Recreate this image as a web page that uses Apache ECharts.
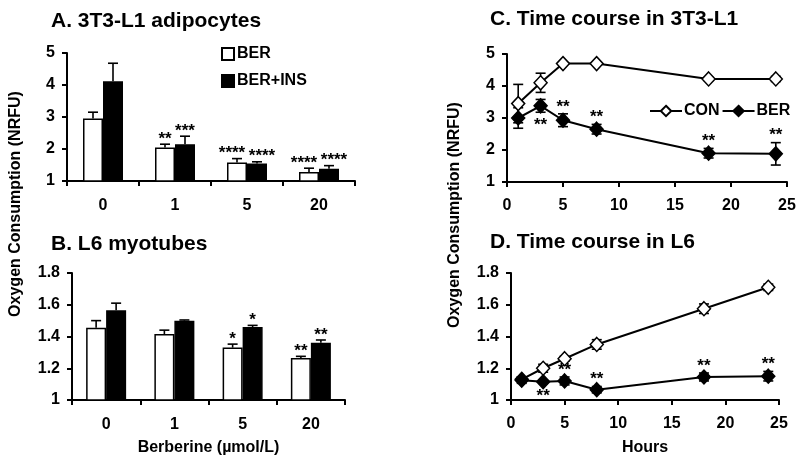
<!DOCTYPE html>
<html><head><meta charset="utf-8">
<script src="https://cdn.jsdelivr.net/npm/echarts@6/dist/echarts.min.js"></script>
<style>html,body{margin:0;padding:0;background:#fff}#c{width:800px;height:460px}</style>
</head><body><div id="c"></div>
<script>
// ---- data ----
const doseLabels = ['0', '1', '5', '20'];
const aBer = [2.95, 2.05, 1.58, 1.28];
const aBerErr = [0.2, 0.1, 0.12, 0.12];
const aIns = [4.12, 2.15, 1.55, 1.38];
const aInsErr = [0.56, 0.25, 0.05, 0.1];
const aBerStars = ['', '**', '****', '****'];
const aInsStars = ['', '***', '****', '****'];

const bBer = [1.455, 1.415, 1.33, 1.265];
const bBerErr = [0.045, 0.025, 0.022, 0.01];
const bIns = [1.565, 1.5, 1.46, 1.36];
const bInsErr = [0.045, 0.004, 0.01, 0.018];
const bBerStars = ['', '', '*', '**'];
const bInsStars = ['', '', '*', '**'];

const hours = [1, 3, 5, 8, 18, 24];
const cCon = [3.45, 4.1, 4.7, 4.7, 4.22, 4.22];
const cConErr = [0.6, 0.3, 0.03, 0.03, 0.05, 0.08];
const cBer = [3.0, 3.38, 2.93, 2.65, 1.9, 1.88];
const cBerErr = [0.32, 0.2, 0.2, 0.15, 0.15, 0.35];
const cStars = ['', '**', '**', '**', '**', '**'];
const cStarSide = ['', 'below', 'above', 'above', 'above', 'above'];

const dCon = [1.13, 1.2, 1.26, 1.35, 1.575, 1.71];
const dConErr = [0.015, 0.025, 0.015, 0.03, 0.03, 0.02];
const dBer = [1.125, 1.115, 1.12, 1.065, 1.145, 1.15];
const dBerErr = [0.02, 0.01, 0.025, 0.02, 0.025, 0.03];
const dStars = ['', '**', '**', '**', '**', '**'];
const dStarSide = ['', 'below', 'above', 'above', 'above', 'above'];

const yTicksA = [1, 5, 1];      // min, max, interval
const yTicksB = [1, 1.8, 0.2];
const xTicksT = [0, 25, 5];

// ---- styling ----
const FONT = 'Liberation Sans, Arial, Helvetica, sans-serif';
const BAR_W = 20;
const axisLine = {show: true, lineStyle: {color: '#000', width: 2}};
const axisTick = {show: true, length: 5, lineStyle: {color: '#000', width: 2}};
const lbl = {color: '#000', fontFamily: FONT, fontWeight: 'bold', fontSize: 16};
const titleStyle = {fontFamily: FONT, fontWeight: 'bold', fontSize: 21, color: '#000'};
const nameStyle = {fontFamily: FONT, fontWeight: 'bold', fontSize: 16, color: '#000'};

function catX(gi) {
  return {type: 'category', gridIndex: gi, data: doseLabels, axisLine, axisTick,
    axisLabel: Object.assign({margin: 17}, lbl), splitLine: {show: false}};
}
function valY(gi, t) {
  return {type: 'value', gridIndex: gi, min: t[0], max: t[1], interval: t[2], axisLine, axisTick,
    axisLabel: Object.assign({margin: 12}, lbl), splitLine: {show: false}};
}
function valX(gi, t) {
  return {type: 'value', gridIndex: gi, min: t[0], max: t[1], interval: t[2], axisLine, axisTick,
    axisLabel: Object.assign({margin: 16}, lbl), splitLine: {show: false}};
}

// error bar for bars (upper only)
function barErr(gi, vals, errs, stars, dx, starShift) {
  return {
    type: 'custom', xAxisIndex: gi, yAxisIndex: gi, z: 5, silent: true,
    data: vals.map((v, i) => [i, v, errs[i]]),
    renderItem: function (params, api) {
      const i = api.value(0), v = api.value(1), e = api.value(2);
      const p0 = api.coord([i, v]);
      const p1 = api.coord([i, v + e]);
      const x = p0[0] + dx;
      const star = stars[params.dataIndex];
      const ch = [
        {type: 'line', shape: {x1: x, y1: p0[1], x2: x, y2: p1[1]}, style: {stroke: '#000', lineWidth: 1.6}},
        {type: 'line', shape: {x1: x - 5, y1: p1[1], x2: x + 5, y2: p1[1]}, style: {stroke: '#000', lineWidth: 1.6}}
      ];
      if (star) {
        const sx = x + (star.length >= 4 ? starShift : 0);
        ch.push({type: 'text', style: {text: star, x: sx, y: p1[1] - 9 + 4, textAlign: 'center',
          textVerticalAlign: 'middle', fill: '#000', font: 'bold 17px ' + FONT}});
      }
      return {type: 'group', children: ch};
    }
  };
}

// symmetric error bars for line charts
function lineErr(gi, xs, vals, errs, stars, sides) {
  return {
    type: 'custom', xAxisIndex: gi, yAxisIndex: gi, z: 1, silent: true,
    data: xs.map((h, i) => [h, vals[i], errs[i]]),
    renderItem: function (params, api) {
      const h = api.value(0), v = api.value(1), e = api.value(2);
      const top = api.coord([h, v + e]), bot = api.coord([h, v - e]);
      const x = top[0];
      const ch = [
        {type: 'line', shape: {x1: x, y1: top[1], x2: x, y2: bot[1]}, style: {stroke: '#000', lineWidth: 1.6}},
        {type: 'line', shape: {x1: x - 5, y1: top[1], x2: x + 5, y2: top[1]}, style: {stroke: '#000', lineWidth: 1.6}},
        {type: 'line', shape: {x1: x - 5, y1: bot[1], x2: x + 5, y2: bot[1]}, style: {stroke: '#000', lineWidth: 1.6}}
      ];
      const idx = params.dataIndex;
      if (stars && stars[idx]) {
        const ty = sides[idx] === 'below' ? bot[1] + 9 : top[1] - 11;
        ch.push({type: 'text', style: {text: stars[idx], x: x, y: ty + 4, textAlign: 'center',
          textVerticalAlign: 'middle', fill: '#000', font: 'bold 17px ' + FONT}});
      }
      return {type: 'group', children: ch};
    }
  };
}

function lineSeries(name, gi, xs, vals, fill) {
  return {
    name: name, type: 'line', xAxisIndex: gi, yAxisIndex: gi, z: 3,
    data: xs.map((h, i) => [h, vals[i]]),
    symbol: 'diamond', symbolSize: [13, 14], showAllSymbol: true,
    lineStyle: {color: '#000', width: 2},
    itemStyle: {color: fill, borderColor: '#000', borderWidth: 1.5},
    emphasis: {disabled: true}
  };
}

const chart = echarts.init(document.getElementById('c'), null, {renderer: 'canvas'});
chart.setOption({
  animation: false,
  backgroundColor: '#fff',
  title: [
    {text: 'A. 3T3-L1 adipocytes', left: 51, top: 11, padding: 0, textStyle: titleStyle},
    {text: 'B. L6 myotubes', left: 51, top: 234, padding: 0, textStyle: titleStyle},
    {text: 'C. Time course in 3T3-L1', left: 490, top: 9, padding: 0, textStyle: titleStyle},
    {text: 'D. Time course in L6', left: 490, top: 232, padding: 0, textStyle: titleStyle}
  ],
  legend: [
    {data: ['BER', 'BER+INS'], orient: 'vertical', left: 216, top: 41, icon: 'rect',
      itemWidth: 12, itemHeight: 12, itemGap: 11, selectedMode: false,
      textStyle: {fontFamily: FONT, fontWeight: 'bold', fontSize: 16, color: '#000', padding: [0, 0, 0, -2]}},
    {data: ['CON', 'BER '], orient: 'horizontal', left: 644, top: 98, itemWidth: 32, itemHeight: 13,
      itemGap: 2, selectedMode: false,
      textStyle: {fontFamily: FONT, fontWeight: 'bold', fontSize: 16, color: '#000', padding: [0, 0, 0, -3]}}
  ],
  grid: [
    {left: 67, top: 53, width: 288, height: 128},
    {left: 72, top: 273, width: 273, height: 127},
    {left: 507, top: 54, width: 280, height: 128},
    {left: 511, top: 273, width: 268, height: 127}
  ],
  xAxis: [
    catX(0),
    Object.assign(catX(1), {name: 'Berberine (µmol/L)', nameLocation: 'middle', nameGap: 40, nameTextStyle: nameStyle}),
    valX(2, xTicksT),
    Object.assign(valX(3, xTicksT), {name: 'Hours', nameLocation: 'middle', nameGap: 40, nameTextStyle: nameStyle})
  ],
  yAxis: [valY(0, yTicksA), valY(1, yTicksB), valY(2, yTicksA), valY(3, yTicksB)],
  graphic: [
    {type: 'text', x: 16, y: 204, rotation: Math.PI / 2, style: {text: 'Oxygen Consumption (NRFU)',
      textAlign: 'center', textVerticalAlign: 'middle', fill: '#000', font: 'bold 16px ' + FONT}},
    {type: 'text', x: 455, y: 215, rotation: Math.PI / 2, style: {text: 'Oxygen Consumption (NRFU)',
      textAlign: 'center', textVerticalAlign: 'middle', fill: '#000', font: 'bold 16px ' + FONT}}
  ],
  series: [
    {name: 'BER', type: 'bar', xAxisIndex: 0, yAxisIndex: 0, data: aBer, barWidth: BAR_W, barGap: '0%',
      itemStyle: {color: '#fff', borderColor: '#000', borderWidth: 1.5}},
    {name: 'BER+INS', type: 'bar', xAxisIndex: 0, yAxisIndex: 0, data: aIns, barWidth: BAR_W, barGap: '0%',
      itemStyle: {color: '#000', borderColor: '#000', borderWidth: 1.5}},
    {name: 'BER', type: 'bar', xAxisIndex: 1, yAxisIndex: 1, data: bBer, barWidth: BAR_W, barGap: '0%',
      itemStyle: {color: '#fff', borderColor: '#000', borderWidth: 1.5}},
    {name: 'BER+INS', type: 'bar', xAxisIndex: 1, yAxisIndex: 1, data: bIns, barWidth: BAR_W, barGap: '0%',
      itemStyle: {color: '#000', borderColor: '#000', borderWidth: 1.5}},
    barErr(0, aBer, aBerErr, aBerStars, -BAR_W / 2, -5),
    barErr(0, aIns, aInsErr, aInsStars, BAR_W / 2, 5),
    barErr(1, bBer, bBerErr, bBerStars, -BAR_W / 2, -5),
    barErr(1, bIns, bInsErr, bInsStars, BAR_W / 2, 5),
    lineErr(2, hours, cCon, cConErr, null, null),
    lineErr(2, hours, cBer, cBerErr, cStars, cStarSide),
    lineErr(3, hours, dCon, dConErr, null, null),
    lineErr(3, hours, dBer, dBerErr, dStars, dStarSide),
    lineSeries('CON', 2, hours, cCon, '#fff'),
    lineSeries('BER ', 2, hours, cBer, '#000'),
    lineSeries('CON', 3, hours, dCon, '#fff'),
    lineSeries('BER ', 3, hours, dBer, '#000')
  ]
});
</script></body></html>
